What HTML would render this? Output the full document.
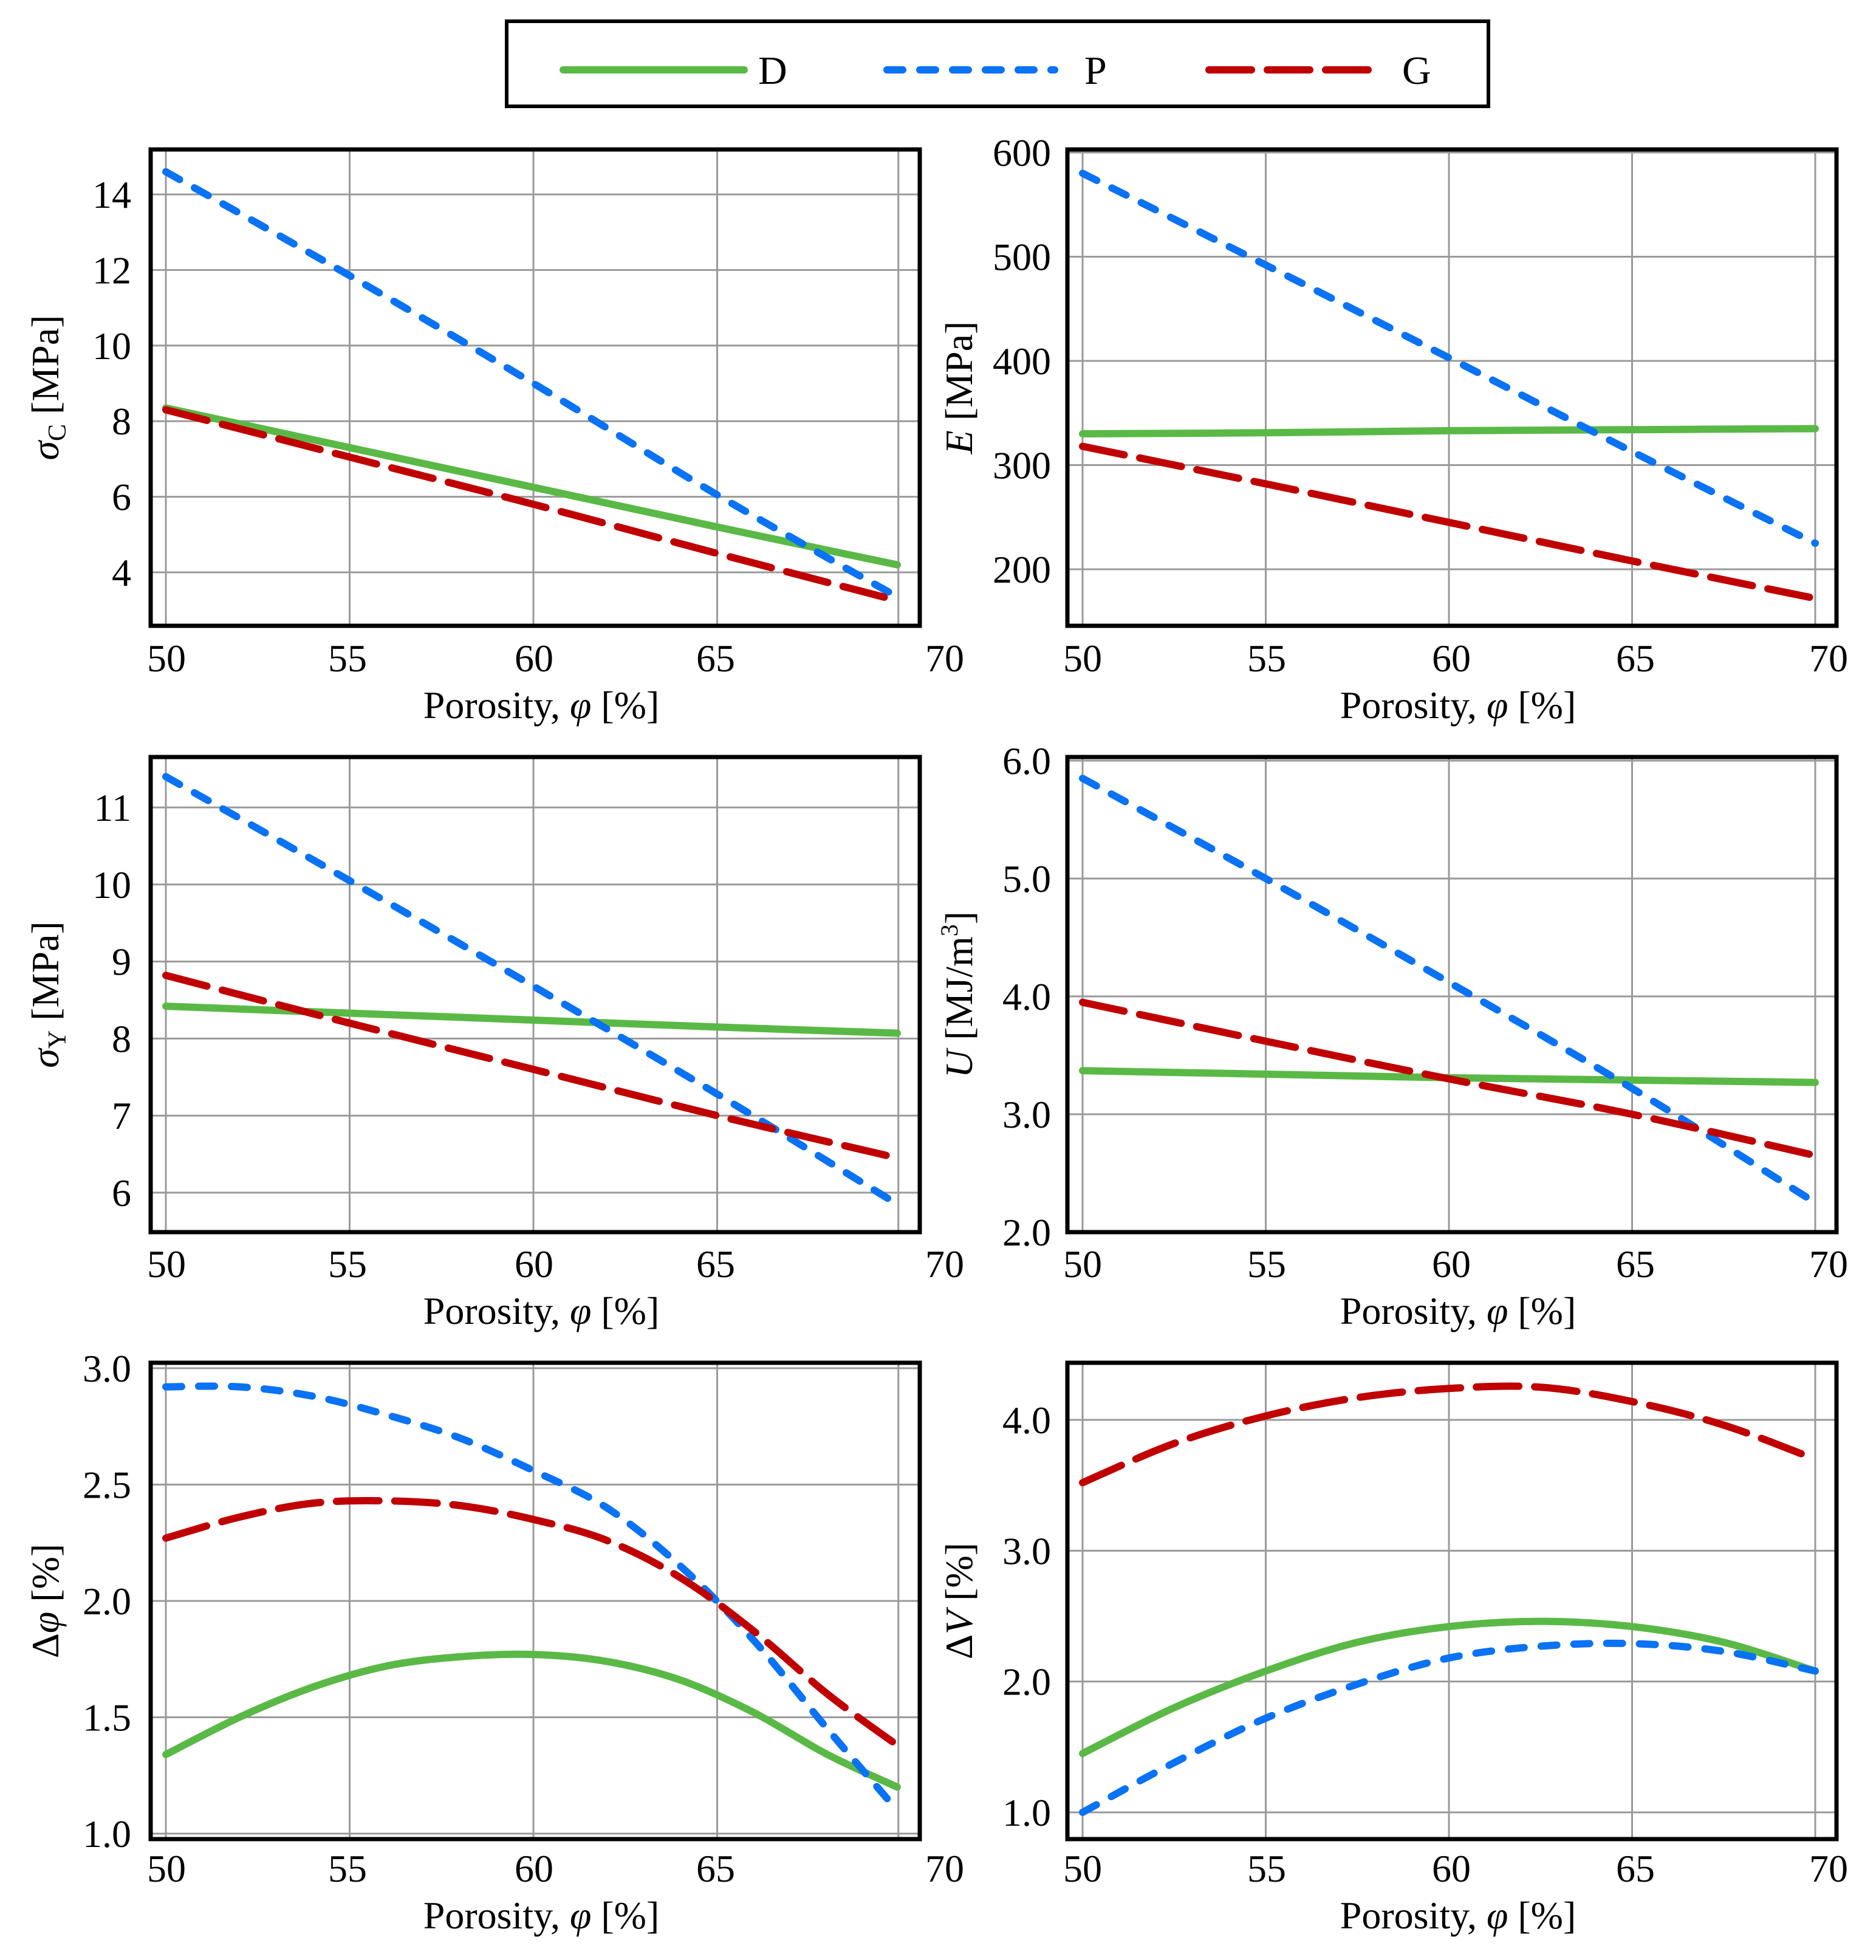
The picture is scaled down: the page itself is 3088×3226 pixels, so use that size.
<!DOCTYPE html>
<html><head><meta charset="utf-8"><style>
html,body{margin:0;padding:0;background:#fff;}
svg{display:block;font-family:"Liberation Serif",serif;}
</style></head><body>
<svg id="fig" width="3088" height="3226" viewBox="0 0 3088 3226" xmlns="http://www.w3.org/2000/svg">
<g>
<rect x="834" y="35" width="1616" height="140" fill="#fff" stroke="#000" stroke-width="6"/>
<line x1="927" y1="115" x2="1225" y2="115" stroke="#5ab946" stroke-width="12" stroke-linecap="round"/>
<text x="1248" y="138" font-size="66">D</text>
<line x1="1460" y1="115" x2="1736" y2="115" stroke="#0a72f5" stroke-width="12" stroke-linecap="round" stroke-dasharray="26 28"/>
<text x="1785" y="138" font-size="66">P</text>
<line x1="1990" y1="115" x2="2265" y2="115" stroke="#c00000" stroke-width="12" stroke-linecap="round" stroke-dasharray="70 26"/>
<text x="2308" y="138" font-size="66">G</text>
</g>
</svg>
<script>
// ---- data ----
const x1 = [50,55,60,65,69.9];
const p1P = [14.6,11.85,9.0,6.05,3.35];
const p1D = [8.35,7.3,6.25,5.2,4.2];
const p1G = [8.3,7.05,5.8,4.5,3.25];
const t1 = [4,6,8,10,12,14];

const x2 = [50,55,60,65,70];
const p2P = [580,492,403,313,225];
const p2D = [330,331,333,334,335];
const p2G = [318,282,245,208,172];
const t2 = [200,300,400,500,600];

const x3 = [50,55,60,65,69.9];
const p3P = [11.4,10.05,8.68,7.28,5.85];
const p3D = [8.42,8.33,8.24,8.15,8.07];
const p3G = [8.82,8.2,7.6,7.0,6.45];
const t3 = [6,7,8,9,10,11];

const x4 = [50,55,60,65,70];
const p4P = [5.85,5.0,4.12,3.22,2.25];
const p4D = [3.37,3.34,3.31,3.29,3.27];
const p4G = [3.95,3.62,3.3,3.0,2.65];
const t4 = [2,3,4,5,6];
const t4L = ['2.0','3.0','4.0','5.0','6.0'];

const x5 = [50,52,54,56,58,60,62,64,66,68,69.9];
const p5P = [2.92,2.92,2.88,2.8,2.7,2.56,2.4,2.15,1.83,1.45,1.1];
const p5G = [2.27,2.36,2.42,2.43,2.41,2.35,2.26,2.1,1.87,1.6,1.38];
const p5D = [1.34,1.5,1.63,1.72,1.76,1.77,1.74,1.66,1.52,1.34,1.2];
const t5 = [1.0,1.5,2.0,2.5,3.0];
const t5L = ['1.0','1.5','2.0','2.5','3.0'];

const x6 = [50,52.5,55,57.5,60,62.5,65,67.5,70];
const p6G = [3.52,3.82,4.03,4.17,4.24,4.25,4.14,3.96,3.7];
const p6D = [1.45,1.8,2.08,2.3,2.42,2.46,2.42,2.3,2.08];
const p6P = [1.0,1.38,1.72,1.98,2.18,2.27,2.29,2.23,2.08];
const t6 = [1,2,3,4];
const t6L = ['1.0','2.0','3.0','4.0'];

const xTicks = [50,55,60,65,70];

// ---- layout ----
const NS='http://www.w3.org/2000/svg';
const svg=document.getElementById('fig');
function mk(tag,attrs,parent){const e=document.createElementNS(NS,tag);for(const k in attrs)e.setAttribute(k,attrs[k]);parent.appendChild(e);return e;}

const cols=[
 {fl:248,fr:1514,x0:273,ppu:60.5,lastGrid:69.93,labX:[274,572,879,1178,1555],tickR:216,ylabX:76},
 {fl:1757,fr:3023,x0:1782,ppu:60.3,lastGrid:70,labX:[1782,2085,2389,2692,3010],tickR:1730,ylabX:1580}
];
const rows=[{ft:246,fb:1030,tickY:1083,labY:1182},{ft:1246,fb:2028,tickY:2080,labY:2179},{ft:2243,fb:3027,tickY:3075,labY:3174}];

const panels=[
 {c:0,r:0,x:x1,s:[p1D,p1P,p1G],ticks:t1,tl:t1.map(String),ref:[4,942,14,320],yl:'σC [MPa]',name:'compressive-strength'},
 {c:1,r:0,x:x2,s:[p2D,p2P,p2G],ticks:t2,tl:t2.map(String),ref:[200,937,600,251],yl:'E [MPa]',name:'elastic-modulus'},
 {c:0,r:1,x:x3,s:[p3D,p3P,p3G],ticks:t3,tl:t3.map(String),ref:[6,1963,11,1329],yl:'σY [MPa]',name:'yield-strength'},
 {c:1,r:1,x:x4,s:[p4D,p4P,p4G],ticks:t4,tl:t4L,ref:[2,2028,6,1252],yl:'U [MJ/m3]',name:'energy-absorption'},
 {c:0,r:2,x:x5,s:[p5D,p5P,p5G],ticks:t5,tl:t5L,ref:[1,3018,3,2252],yl:'Δφ [%]',name:'porosity-change'},
 {c:1,r:2,x:x6,s:[p6D,p6P,p6G],ticks:t6,tl:t6L,ref:[1,2983,4,2337],yl:'ΔV [%]',name:'volume-change'}
];
const styles=[
 {stroke:'#5ab946',dash:'none',n:'d'},
 {stroke:'#0a72f5',dash:'26 28',n:'p'},
 {stroke:'#c00000',dash:'70 26',n:'g'}
];

function pathFrom(pts){
 let d='M'+pts[0][0]+','+pts[0][1];
 for(let i=0;i<pts.length-1;i++){
  const p0=pts[i-1]||pts[i],p1=pts[i],p2=pts[i+1],p3=pts[i+2]||pts[i+1];
  const c1=[p1[0]+(p2[0]-p0[0])/6,p1[1]+(p2[1]-p0[1])/6];
  const c2=[p2[0]-(p3[0]-p1[0])/6,p2[1]-(p3[1]-p1[1])/6];
  d+=' C'+c1[0].toFixed(1)+','+c1[1].toFixed(1)+' '+c2[0].toFixed(1)+','+c2[1].toFixed(1)+' '+p2[0].toFixed(1)+','+p2[1].toFixed(1);
 }
 return d;
}

function ylabel(g,p,cx,cy){
 const t=mk('text',{x:0,y:0,'font-size':64,'text-anchor':'middle',transform:'translate('+cx+','+cy+') rotate(-90)'},g);
 
 
 const lab=p.yl;
 if(lab.startsWith('σC')||lab.startsWith('σY')){
  const a=mk('tspan',{'font-style':'italic'},t);a.textContent='σ';
  const b=mk('tspan',{'font-size':42,dy:12},t);b.textContent=lab[1];
  const c=mk('tspan',{dy:-12},t);c.textContent=' [MPa]';
 } else if(lab.startsWith('E')){
  const a=mk('tspan',{'font-style':'italic'},t);a.textContent='E';
  const c=mk('tspan',{},t);c.textContent=' [MPa]';
 } else if(lab.startsWith('U')){
  const a=mk('tspan',{'font-style':'italic'},t);a.textContent='U';
  const c=mk('tspan',{},t);c.textContent=' [MJ/m';
  const d=mk('tspan',{'font-size':40,dy:-24},t);d.textContent='3';
  const e=mk('tspan',{dy:24},t);e.textContent=']';
 } else {
  const a=mk('tspan',{},t);a.textContent='Δ';
  const b=mk('tspan',{'font-style':'italic'},t);b.textContent=lab[1];
  const c=mk('tspan',{},t);c.textContent=' [%]';
 }
}

panels.forEach(p=>{
 const C=cols[p.c],R=rows[p.r];
 const [v0,y0,v1,y1]=p.ref;
 const ys=v=>y0+(v-v0)*(y1-y0)/(v1-v0);
 const xs=v=>C.x0+(v-50)*C.ppu;
 const g=mk('g',{},svg);
 
 
 const clipId='clip-'+p.name;
 const cp=mk('clipPath',{id:clipId},g);
 mk('rect',{x:C.fl,y:R.ft,width:C.fr-C.fl,height:R.fb-R.ft},cp);
 const gx=[50,55,60,65,C.lastGrid];
 gx.forEach(v=>{
  const l=mk('line',{x1:xs(v),x2:xs(v),y1:R.ft,y2:R.fb,stroke:'#9a9a9a','stroke-width':3},g);
  
  
 });
 p.ticks.forEach((v,i)=>{
  const yy=ys(v);
  const l=mk('line',{x1:C.fl,x2:C.fr,y1:yy,y2:yy,stroke:'#9a9a9a','stroke-width':3},g);
  
  
  const t=mk('text',{x:C.tickR,y:yy+22,'font-size':64,'text-anchor':'end'},g);
  
  
  t.textContent=p.tl[i];
 });
 const sg=mk('g',{'clip-path':'url(#'+clipId+')'},g);
 p.s.forEach((vals,si)=>{
  const st=styles[si];
  const pts=vals.map((v,i)=>[xs(p.x[i]),ys(v)]);
  const path=mk('path',{d:pathFrom(pts),fill:'none',stroke:st.stroke,'stroke-width':12,'stroke-linecap':'round','stroke-dasharray':st.dash},sg);
  
  
 });
 const fr=mk('rect',{x:C.fl,y:R.ft,width:C.fr-C.fl,height:R.fb-R.ft,fill:'none',stroke:'#000','stroke-width':7},g);
 
 
 xTicks.forEach((v,i)=>{
  const t=mk('text',{x:C.labX[i],y:R.tickY+22,'font-size':64,'text-anchor':'middle'},g);
  
  
  t.textContent=String(v);
 });
 const xl=mk('text',{x:(C.fl+C.fr)/2+10,y:R.labY,'font-size':64,'text-anchor':'middle'},g);
 
 
 const a=mk('tspan',{},xl);a.textContent='Porosity, ';
 const b=mk('tspan',{'font-style':'italic'},xl);b.textContent='φ';
 const c=mk('tspan',{},xl);c.textContent=' [%]';
 ylabel(g,p,C.ylabX+20,(R.ft+R.fb)/2);
});
</script>
</body></html>
